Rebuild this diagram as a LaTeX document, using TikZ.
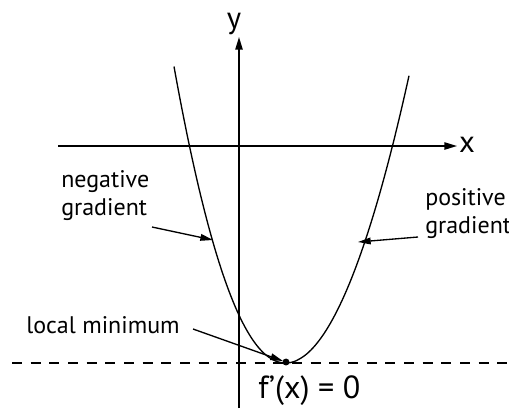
\documentclass[tikz,border=0pt]{standalone}
\usepackage{fontspec}
\setmainfont{PT Sans}
\usetikzlibrary{arrows.meta}
\begin{document}
\begin{tikzpicture}[x=0.75pt,y=-0.75pt,
  lbl/.style={font=\fontsize{18}{21}\selectfont, inner sep=0pt, align=left},
  axlbl/.style={font=\fontsize{23}{26}\selectfont, inner sep=0pt},
  eqlbl/.style={font=\fontsize{24}{27}\selectfont, inner sep=0pt},
  axis/.style={line width=1.1pt, -{Triangle[length=9.5pt,width=5.5pt]}},
  ptr/.style={line width=1pt, -{Triangle[length=9.5pt,width=5pt]}},
  curve/.style={line width=1pt},
  dashline/.style={line width=1pt, dash pattern=on 7.5pt off 6.5pt}]
\useasboundingbox (0,0) rectangle (509,408);
% axes
\coordinate (ybot) at (239,408);
\coordinate (ytop) at (239,37);
\coordinate (xl) at (58,146);
\coordinate (xr) at (457,146);
\draw[axis] (ybot) -- (ytop);
\draw[axis] (xl) -- (xr);
\node[axlbl, anchor=base] (ylab) at (234,28) {y};
\node[axlbl, anchor=base] (xlab) at (467,152) {x};
% dashed line
\coordinate (dl) at (12,363);
\coordinate (dr) at (509,363);
\draw[dashline] (dl) -- (dr);
% curve
\draw[curve] plot[domain=1.12:0.001, samples=60, variable=\t] ({286-100*\t},{363-233.7*pow(\t,2.1)})
  -- plot[domain=0.001:1.23, samples=60, variable=\t] ({286+100*\t},{363-192.3*pow(\t,1.94)});
\fill (286,362) circle (2.6pt) coordinate (minpt);
% labels
\node[lbl, anchor=base west] (neg) at (61,215) {negative\\gradient};
\node[lbl, anchor=base west] (pos) at (425,233) {positive\\gradient};
\node[lbl, anchor=base west] (loc) at (26,333) {local minimum};
\node[eqlbl, anchor=base west] (fp) at (258,398) {f’(x) = 0};
% pointers
\coordinate (negs) at (152,227);
\coordinate (negt) at (213,240);
\coordinate (poss) at (418,237);
\coordinate (post) at (358,242);
\coordinate (locs) at (193,329);
\coordinate (loct) at (283,361);
\draw[ptr] (negs) -- (negt);
\draw[ptr] (poss) -- (post);
\draw[ptr] (locs) -- (loct);
\end{tikzpicture}
\end{document}
